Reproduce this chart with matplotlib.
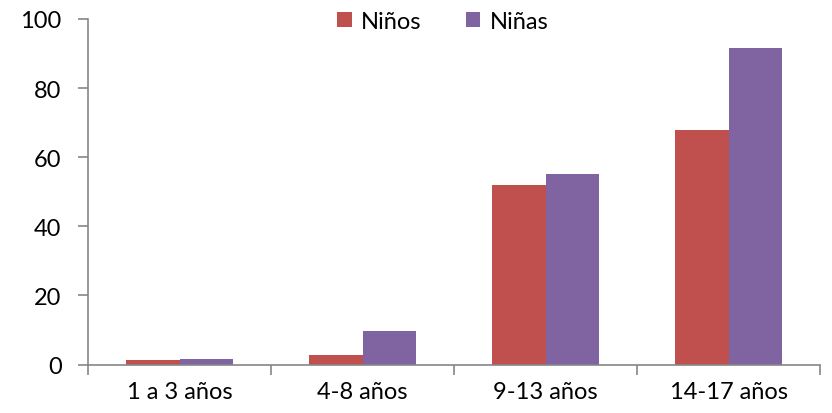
import matplotlib.pyplot as plt
import numpy as np

plt.rcParams["font.family"] = ["Lato", "DejaVu Sans"]

CATEGORIES = ["1 a 3 años", "4-8 años", "9-13 años", "14-17 años"]
NINOS = [1.4, 2.7, 51.9, 68.0]
NINAS = [1.6, 9.7, 55.0, 91.5]
GRAY = "#868686"


def main():
    x = np.arange(len(CATEGORIES))
    w = 0.295

    fig = plt.figure(figsize=(8.32, 4.14), dpi=100)
    ax = fig.add_axes([88 / 832, 1 - 365.5 / 414, 732 / 832, 345.5 / 414])

    ax.bar(x - w / 2, NINOS, w, color="#C0504D", label="Niños")
    ax.bar(x + w / 2, NINAS, w, color="#8064A2", label="Niñas")

    ax.set_xlim(-0.5, len(CATEGORIES) - 0.5)
    ax.set_ylim(0, 100)
    ax.set_yticks(range(0, 101, 20))
    ax.set_xticks(x, labels=CATEGORIES)
    ax.set_xticks(np.arange(-0.5, len(CATEGORIES), 1.0), minor=True)

    for side in ("top", "right"):
        ax.spines[side].set_visible(False)
    for side in ("left", "bottom"):
        ax.spines[side].set_color(GRAY)
        ax.spines[side].set_linewidth(1.2)

    ax.tick_params(axis="x", which="major", length=0, pad=12, labelsize=17)
    ax.tick_params(axis="x", which="minor", length=7, color=GRAY, width=1.2)
    ax.tick_params(axis="y", length=7, color=GRAY, width=1.2, pad=12, labelsize=17)

    ax.legend(
        loc="upper center",
        bbox_to_anchor=(0.485, 1.085),
        ncol=2,
        frameon=False,
        fontsize=17,
        handlelength=0.6,
        handleheight=0.6,
        handletextpad=0.4,
        columnspacing=1.9,
    )

    plt.savefig("out.png", dpi=100)


if __name__ == "__main__":
    main()
